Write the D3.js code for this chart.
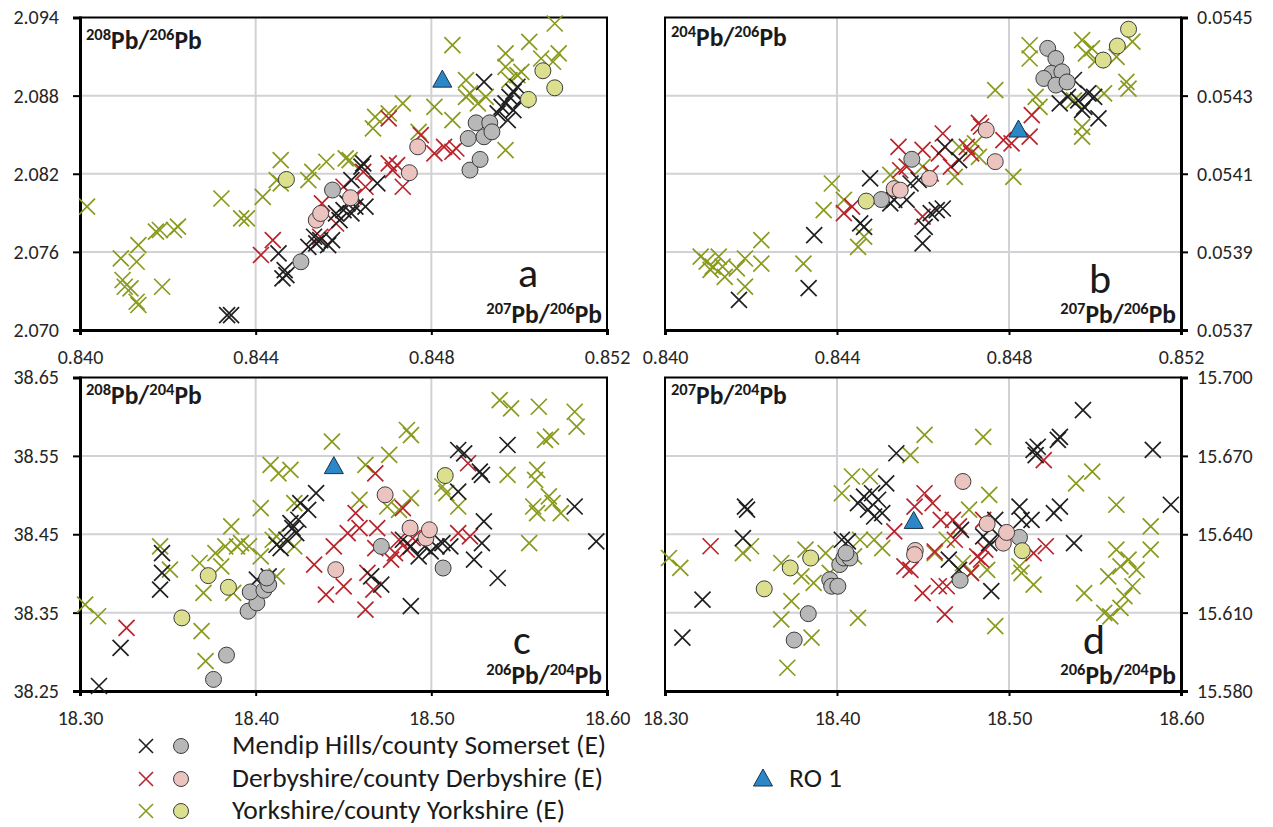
<!DOCTYPE html>
<html>
<head>
<meta charset="utf-8">
<script src="https://cdn.jsdelivr.net/npm/d3@7"></script>
<style>
  body { margin: 0; background: #fff; }
  text { font-family: Carlito, Lato, "Noto Sans", sans-serif; }
</style>
</head>
<body>
<svg id="chart" width="1273" height="827"></svg>
<script>
// ---- data: [x, y] pairs ----

// panel a: 207Pb/206Pb vs 208Pb/206Pb
const A_YORK_X = [[0.84016,2.07947],[0.84093,2.0755],[0.84129,2.07524],[0.84133,2.07652],[0.84097,2.07384],[0.84102,2.07332],
  [0.84115,2.0732],[0.84187,2.07332],[0.84129,2.07217],[0.84133,2.07192],[0.84173,2.07755],[0.84182,2.07768],[0.84214,2.07768],
  [0.84223,2.07794],[0.84322,2.0801],[0.84367,2.07857],[0.8438,2.07857],[0.84416,2.08023],[0.84448,2.08151],[0.84457,2.08305],
  [0.84457,2.08126],[0.8452,2.08151],[0.84529,2.08215],[0.84561,2.08292],[0.84605,2.08318],[0.84614,2.08305],[0.84667,2.08548],
  [0.84672,2.08637],[0.84703,2.08663],[0.84735,2.0874],[0.84771,2.08522],[0.84807,2.08714],[0.84848,2.09188],[0.84848,2.08612],
  [0.84879,2.08919],[0.84879,2.08791],[0.84906,2.0874],[0.84924,2.08791],[0.84969,2.09124],[0.84969,2.09021],[0.84978,2.08919],
  [0.84996,2.08957],[0.85005,2.08983],[0.85023,2.09213],[0.84969,2.08382],[0.8505,2.09085],[0.85077,2.0906],[0.85081,2.09354],
  [0.8509,2.09124],[0.84888,2.08817]];
const A_DERBY_X = [[0.84412,2.07576],[0.84439,2.0769],[0.84547,2.07716],[0.84551,2.07972],[0.84583,2.07818],[0.846,2.081],
  [0.84623,2.08023],[0.84645,2.08215],[0.8465,2.081],[0.84703,2.08279],[0.84712,2.08228],[0.84722,2.08267],[0.84735,2.081],
  [0.84703,2.08625],[0.84807,2.08356],[0.84829,2.08407],[0.84848,2.08369],[0.84857,2.08394],[0.84776,2.08497]];
const A_MENDIP_X = [[0.84335,2.07115],[0.84344,2.07115],[0.84452,2.07588],[0.84466,2.0746],[0.84461,2.07396],[0.8447,2.07422],
  [0.8452,2.07639],[0.84533,2.07716],[0.84538,2.07665],[0.84547,2.0769],[0.84565,2.07652],[0.84574,2.0769],[0.84583,2.07895],
  [0.84591,2.07844],[0.846,2.07921],[0.84609,2.07972],[0.84618,2.07895],[0.84627,2.07947],[0.8465,2.07947],[0.84618,2.08151],
  [0.84641,2.08254],[0.84645,2.08279],[0.84677,2.08126],[0.8492,2.08906],[0.84951,2.08663],[0.8496,2.08714],[0.84969,2.0874],
  [0.84974,2.08612],[0.84978,2.08791],[0.84987,2.0883],[0.84996,2.08868],[0.85005,2.08765],[0.84987,2.08689]];
const A_MENDIP_O = [[0.84503,2.07524],[0.84575,2.08075],[0.84888,2.08228],[0.84911,2.0831],[0.84884,2.08471],[0.84902,2.08591],
  [0.84933,2.08591],[0.8492,2.08484],[0.84938,2.08522]];
const A_DERBY_O = [[0.84538,2.07844],[0.84548,2.07895],[0.84616,2.08016],[0.8475,2.08208],[0.84769,2.08407]];
const A_YORK_O = [[0.8447,2.08156],[0.85021,2.08771],[0.85054,2.08991],[0.85081,2.0886]];
const A_RO1 = [[0.84825,2.08919]];

// panel b: 207Pb/206Pb vs 204Pb/206Pb
const B_YORK_X = [[0.84083,0.053888],[0.84097,0.053875],[0.84111,0.053862],[0.84125,0.053888],[0.84134,0.053862],[0.84139,0.053836],
  [0.84106,0.053854],[0.84167,0.053858],[0.84186,0.053883],[0.84186,0.053811],[0.84224,0.05393],[0.84224,0.05387],[0.84322,0.05387],
  [0.84369,0.054007],[0.84388,0.054075],[0.84416,0.054033],[0.84449,0.053913],[0.84463,0.053939],[0.84524,0.054097],[0.84599,0.054118],
  [0.84674,0.054092],[0.84684,0.054169],[0.8473,0.054143],[0.84721,0.054178],[0.84768,0.054314],[0.8481,0.054092],[0.84848,0.054429],
  [0.84848,0.054395],[0.84862,0.054297],[0.84871,0.054271],[0.8497,0.054442],[0.84979,0.054408],[0.84993,0.054421],[0.85003,0.054391],
  [0.85021,0.054306],[0.8505,0.054399],[0.85073,0.054335],[0.85078,0.054318],[0.85087,0.054438],[0.8497,0.05422],[0.8497,0.054195],
  [0.84951,0.054288]];
const B_DERBY_X = [[0.84416,0.053999],[0.84435,0.054016],[0.84543,0.054169],[0.84547,0.054109],[0.84562,0.054118],[0.84599,0.054161],
  [0.84618,0.054101],[0.84637,0.054152],[0.84646,0.054203],[0.84665,0.054118],[0.84702,0.054169],[0.84712,0.054152],[0.8473,0.05423],
  [0.84735,0.054221],[0.84787,0.054186],[0.84806,0.054178],[0.84848,0.054195],[0.84853,0.05425],[0.84599,0.05399]];
const B_MENDIP_X = [[0.84172,0.053777],[0.84334,0.053807],[0.84347,0.053943],[0.84477,0.054088],[0.84454,0.053973],[0.84463,0.053964],
  [0.84524,0.054024],[0.84533,0.054033],[0.84562,0.054033],[0.84571,0.054075],[0.8459,0.054084],[0.84599,0.053922],[0.84604,0.053964],
  [0.84618,0.053999],[0.84632,0.054007],[0.84646,0.054011],[0.84651,0.054169],[0.84684,0.054135],[0.84918,0.05428],[0.84937,0.054297],
  [0.84951,0.05434],[0.84961,0.054288],[0.84975,0.054271],[0.84984,0.054306],[0.84998,0.054297],[0.85008,0.054242],[0.8497,0.054263]];
const B_MENDIP_O = [[0.84503,0.054034],[0.84574,0.054137],[0.8489,0.054421],[0.84909,0.054395],[0.84899,0.054357],[0.84881,0.054344],
  [0.84923,0.054361],[0.84909,0.054327],[0.84935,0.054335]];
const B_DERBY_O = [[0.84533,0.054062],[0.84547,0.054058],[0.84615,0.054088],[0.84747,0.054212],[0.84768,0.054131]];
const B_YORK_O = [[0.84468,0.05403],[0.85019,0.054391],[0.85052,0.054427],[0.85078,0.05447]];
const B_RO1 = [[0.84822,0.054212]];

// panel c: 206Pb/204Pb vs 208Pb/204Pb
const C_YORK_X = [[18.3029,38.3603],[18.3103,38.3454],[18.3456,38.4345],[18.3512,38.4048],[18.3681,38.4133],[18.3703,38.3751],
  [18.3692,38.3263],[18.3715,38.2882],[18.3771,38.426],[18.3804,38.4091],[18.3827,38.4345],[18.3861,38.46],[18.3872,38.3751],
  [18.3894,38.4345],[18.3917,38.4388],[18.3962,38.4345],[18.4029,38.4218],[18.4029,38.4833],[18.4085,38.5384],[18.4097,38.443],
  [18.413,38.5278],[18.4198,38.5321],[18.4119,38.4473],[18.4119,38.3963],[18.422,38.4897],[18.422,38.4345],[18.4434,38.5681],
  [18.4591,38.4939],[18.4625,38.5384],[18.476,38.5512],[18.4749,38.4854],[18.4861,38.583],[18.4884,38.5766],[18.4884,38.496],
  [18.4816,38.4812],[18.5063,38.5109],[18.5085,38.5024],[18.5153,38.4854],[18.5389,38.6212],[18.5454,38.6106],[18.5612,38.6127],
  [18.5434,38.5257],[18.5557,38.4388],[18.5591,38.5193],[18.5602,38.5321],[18.5647,38.5703],[18.5681,38.5745],[18.558,38.4854],
  [18.5602,38.4769],[18.569,38.4897],[18.5737,38.4769],[18.5816,38.6063],[18.5827,38.5872],[18.5669,38.4982]];
const C_DERBY_X = [[18.3265,38.3306],[18.4333,38.4112],[18.44,38.373],[18.4445,38.4345],[18.4501,38.3836],[18.4524,38.4515],
  [18.4569,38.477],[18.4591,38.4579],[18.4625,38.3539],[18.4636,38.4006],[18.4681,38.5278],[18.4692,38.4579],[18.4681,38.4324],
  [18.467,38.3794],[18.4771,38.4176],[18.4793,38.426],[18.4816,38.443],[18.4838,38.4833],[18.4861,38.4303],[18.4894,38.4451],
  [18.5153,38.4515],[18.522,38.4473],[18.5209,38.5406]];
const C_MENDIP_X = [[18.3108,38.2564],[18.3231,38.3051],[18.3467,38.426],[18.3467,38.4006],[18.3456,38.3794],[18.4007,38.3921],
  [18.4074,38.3963],[18.4119,38.4366],[18.4142,38.4324],[18.4175,38.443],[18.4198,38.4642],[18.4209,38.4579],[18.4231,38.4515],
  [18.4243,38.4685],[18.4254,38.4897],[18.4299,38.4812],[18.4344,38.5024],[18.4658,38.3963],[18.4715,38.3857],[18.4883,38.3582],
  [18.4838,38.443],[18.4883,38.4345],[18.4928,38.4218],[18.4962,38.4345],[18.4996,38.4282],[18.5029,38.4345],[18.5063,38.4388],
  [18.5108,38.4345],[18.5153,38.5575],[18.5187,38.5533],[18.5153,38.5045],[18.5276,38.53],[18.5288,38.5257],[18.5299,38.4663],
  [18.5288,38.4388],[18.5243,38.4176],[18.5378,38.3942],[18.5434,38.5639],[18.5816,38.4854],[18.5939,38.4409]];
const C_MENDIP_O = [[18.376,38.2648],[18.3834,38.2958],[18.3957,38.3518],[18.4007,38.3624],[18.3969,38.3764],[18.4047,38.3785],
  [18.4074,38.3857],[18.4063,38.3942],[18.4715,38.4345],[18.5067,38.4069]];
const C_DERBY_O = [[18.4456,38.4048],[18.4737,38.5003],[18.4879,38.4579],[18.4969,38.4451],[18.4989,38.4557]];
const C_YORK_O = [[18.358,38.3433],[18.373,38.3972],[18.3845,38.3823],[18.5079,38.5249]];
const C_RO1 = [[18.4445,38.5363]];

// panel d: 206Pb/204Pb vs 207Pb/204Pb
const D_YORK_X = [[18.3023,15.6309],[18.3089,15.6271],[18.3453,15.6328],[18.35,15.6354],[18.3676,15.629],[18.3676,15.6074],
  [18.3711,15.5889],[18.3735,15.6144],[18.3793,15.6239],[18.3817,15.6341],[18.3852,15.6004],[18.3864,15.6214],[18.3934,15.6328],
  [18.3958,15.6252],[18.4028,15.6557],[18.4087,15.6621],[18.4099,15.6315],[18.4134,15.6379],[18.4122,15.608],[18.4192,15.6621],
  [18.4216,15.6379],[18.4263,15.6347],[18.4427,15.6703],[18.4509,15.678],[18.4568,15.6328],[18.4638,15.6379],[18.4732,15.629],
  [18.4779,15.6252],[18.4768,15.6494],[18.485,15.6773],[18.4885,15.6551],[18.4873,15.6264],[18.492,15.6048],[18.5061,15.6277],
  [18.5073,15.6252],[18.5143,15.6207],[18.539,15.6595],[18.5484,15.664],[18.5437,15.6175],[18.5577,15.6239],[18.5624,15.6513],
  [18.5624,15.6341],[18.5554,15.6099],[18.5589,15.6086],[18.5648,15.6118],[18.5671,15.6163],[18.5695,15.6303],[18.5718,15.6201],
  [18.5742,15.6264],[18.5824,15.643],[18.5824,15.6341],[18.5648,15.6277]];
const D_DERBY_X = [[18.3265,15.6354],[18.4333,15.6411],[18.4392,15.6277],[18.4427,15.6264],[18.4451,15.6506],[18.4498,15.6175],
  [18.4509,15.6557],[18.4556,15.6519],[18.4568,15.6334],[18.4592,15.6201],[18.4603,15.6455],[18.4627,15.6093],[18.4638,15.6201],
  [18.4674,15.6455],[18.4685,15.6379],[18.4709,15.643],[18.4815,15.6315],[18.4838,15.6303],[18.4862,15.6341],[18.485,15.6455],
  [18.5143,15.6328],[18.5214,15.6354],[18.5202,15.6684],[18.4779,15.6252]];
const D_MENDIP_X = [[18.3101,15.6004],[18.3218,15.615],[18.3453,15.6385],[18.3465,15.6506],[18.3477,15.6494],[18.4028,15.6379],
  [18.4063,15.6373],[18.4122,15.6519],[18.4157,15.6544],[18.4181,15.6494],[18.4204,15.6557],[18.4216,15.6468],[18.4239,15.6532],
  [18.4263,15.6481],[18.4286,15.6595],[18.4345,15.671],[18.465,15.6303],[18.4709,15.6264],[18.4721,15.6417],[18.485,15.6392],
  [18.4885,15.6366],[18.4897,15.6182],[18.492,15.6455],[18.4944,15.6392],[18.5061,15.6506],[18.5073,15.6455],[18.5131,15.6455],
  [18.5143,15.6723],[18.5155,15.6703],[18.5167,15.6735],[18.5261,15.6481],[18.5296,15.6506],[18.5284,15.6761],[18.5296,15.6773],
  [18.5378,15.6366],[18.543,15.6875],[18.5836,15.6723],[18.5941,15.6513]];
const D_MENDIP_O = [[18.3751,15.5995],[18.3833,15.6096],[18.3958,15.6226],[18.3969,15.6201],[18.4005,15.6201],[18.4016,15.6284],
  [18.404,15.6309],[18.4075,15.6309],[18.4052,15.6328],[18.4716,15.6224],[18.5061,15.6388]];
const D_DERBY_O = [[18.4455,15.6338],[18.4451,15.6322],[18.4732,15.6602],[18.4873,15.644],[18.4967,15.6366],[18.4986,15.6407]];
const D_YORK_O = [[18.3577,15.6191],[18.3728,15.6271],[18.3847,15.6309],[18.5077,15.6337]];
const D_RO1 = [[18.4446,15.6449]];

// ticks
const TICKS_207_206 = [0.840, 0.844, 0.848, 0.852];
const TICKS_206_204 = [18.30, 18.40, 18.50, 18.60];
const TICKS_A = [2.070, 2.076, 2.082, 2.088, 2.094];
const TICKS_B = [0.0537, 0.0539, 0.0541, 0.0543, 0.0545];
const TICKS_C = [38.25, 38.35, 38.45, 38.55, 38.65];
const TICKS_D = [15.580, 15.610, 15.640, 15.670, 15.700];

// legend
const GROUPS = ["Mendip Hills/county Somerset (E)", "Derbyshire/county Derbyshire (E)", "Yorkshire/county Yorkshire (E)"];
const SAMPLE = "RO 1";

// ---- styles ----
const CROSS_COL = ["#1f1f1f", "#b9232b", "#8a9a1c"];
const FILL_COL = ["#b8b8b8", "#ebc4bf", "#dcdf8d"];
const TRI_COL = "#2b87c8";

const svg = d3.select("#chart");

const crossPath = "M-8,-8L8,8M-8,8L8,-8";
const triPath = "M0,-10L9.5,7L-9.5,7Z";

// draw a superscripted isotope string like 208Pb/206Pb
function isoText(g, x, y, parts, anchor) {
  const t = g.append("text")
    .attr("x", x).attr("y", y)
    .attr("text-anchor", anchor)
    .attr("font-weight", "bold")
    .attr("fill", "#1a1a1a");
  let raised = false;
  parts.forEach(p => {
    const sup = /^\d+$/.test(p);
    let dy = 0;
    if (sup && !raised) { dy = -9; raised = true; }
    else if (!sup && raised) { dy = 9; raised = false; }
    t.append("tspan").attr("dy", dy).attr("font-size", sup ? 16.5 : 25.5).text(p);
  });
}

function drawPanel(cfg) {
  const W = cfg.right - cfg.left, H = cfg.bottom - cfg.top;
  const g = svg.append("g").attr("transform", `translate(${cfg.left},${cfg.top})`);

  const x = d3.scaleLinear().domain(d3.extent(cfg.xTicks)).range([0, W]);
  const y = d3.scaleLinear().domain(d3.extent(cfg.yTicks)).range([H, 0]);

  // grid
  g.append("g").selectAll("line.gx")
    .data(cfg.xTicks.slice(1, -1)).enter().append("line")
      .attr("x1", d => x(d)).attr("x2", d => x(d))
      .attr("y1", 0).attr("y2", H)
      .attr("stroke", "#d2d2d6").attr("stroke-width", 2);
  g.append("g").selectAll("line.gy")
    .data(cfg.yTicks.slice(1, -1)).enter().append("line")
      .attr("y1", d => y(d)).attr("y2", d => y(d))
      .attr("x1", 0).attr("x2", W)
      .attr("stroke", "#d2d2d6").attr("stroke-width", 2);

  // frame
  g.append("rect").attr("width", W).attr("height", H)
    .attr("fill", "none").attr("stroke", "#000").attr("stroke-width", 2);

  // axes
  const xa = g.append("g").attr("transform", `translate(0,${H})`)
    .call(d3.axisBottom(x).tickValues(cfg.xTicks).tickFormat(d3.format(cfg.xFmt))
      .tickSize(5).tickPadding(15));
  const ya = cfg.ySide === "left"
    ? g.append("g").call(d3.axisLeft(y).tickValues(cfg.yTicks).tickFormat(d3.format(cfg.yFmt))
        .tickSize(7).tickPadding(14))
    : g.append("g").attr("transform", `translate(${W},0)`)
        .call(d3.axisRight(y).tickValues(cfg.yTicks).tickFormat(d3.format(cfg.yFmt))
        .tickSize(7).tickPadding(9));
  [xa, ya].forEach(a => {
    a.select(".domain").attr("stroke", "#000").attr("stroke-width", 3);
    a.selectAll(".tick line").attr("stroke", "#000").attr("stroke-width", 2);
    a.selectAll(".tick text").attr("font-size", 20).attr("fill", "#262626")
      .attr("font-family", "Carlito, Lato, 'Noto Sans', sans-serif");
  });

  // crosses (Yorkshire, Derbyshire, Mendip)
  [2, 1, 0].forEach(i => {
    g.append("g").selectAll("path")
      .data(cfg.crosses[i]).enter().append("path")
        .attr("d", crossPath)
        .attr("transform", d => `translate(${x(d[0])},${y(d[1])})`)
        .attr("fill", "none").attr("stroke", CROSS_COL[i]).attr("stroke-width", 1.7);
  });
  // circles
  [0, 1, 2].forEach(i => {
    g.append("g").selectAll("circle")
      .data(cfg.circles[i]).enter().append("circle")
        .attr("cx", d => x(d[0])).attr("cy", d => y(d[1])).attr("r", 8)
        .attr("fill", FILL_COL[i]).attr("stroke", "#3c3c3c").attr("stroke-width", 1);
  });
  g.append("g").selectAll("path")
    .data(cfg.ro1).enter().append("path")
      .attr("d", triPath)
      .attr("transform", d => `translate(${x(d[0])},${y(d[1])})`)
      .attr("fill", TRI_COL).attr("stroke", "#1b3347").attr("stroke-width", 1);

  // labels
  isoText(g, 6, cfg.titleY, cfg.yTitle, "start");
  isoText(g, W - 5, H - 7, cfg.xTitle, "end");
  g.append("text").attr("x", cfg.letterX).attr("y", H - cfg.letterDy)
    .attr("text-anchor", "middle").attr("font-size", 42).attr("fill", "#1a1a1a")
    .text(cfg.letter);
}

drawPanel({
  left: 80, right: 607, top: 17.5, bottom: 330,
  xTicks: TICKS_207_206, yTicks: TICKS_A, xFmt: ".3f", yFmt: ".3f", ySide: "left",
  crosses: [A_MENDIP_X, A_DERBY_X, A_YORK_X], circles: [A_MENDIP_O, A_DERBY_O, A_YORK_O], ro1: A_RO1,
  yTitle: ["208", "Pb/", "206", "Pb"], xTitle: ["207", "Pb/", "206", "Pb"], titleY: 31,
  letter: "a", letterX: 448, letterDy: 43
});
drawPanel({
  left: 665, right: 1181, top: 17.5, bottom: 330,
  xTicks: TICKS_207_206, yTicks: TICKS_B, xFmt: ".3f", yFmt: ".4f", ySide: "right",
  crosses: [B_MENDIP_X, B_DERBY_X, B_YORK_X], circles: [B_MENDIP_O, B_DERBY_O, B_YORK_O], ro1: B_RO1,
  yTitle: ["204", "Pb/", "206", "Pb"], xTitle: ["207", "Pb/", "206", "Pb"], titleY: 28,
  letter: "b", letterX: 435, letterDy: 37
});
drawPanel({
  left: 80, right: 607, top: 377.5, bottom: 691,
  xTicks: TICKS_206_204, yTicks: TICKS_C, xFmt: ".2f", yFmt: ".2f", ySide: "left",
  crosses: [C_MENDIP_X, C_DERBY_X, C_YORK_X], circles: [C_MENDIP_O, C_DERBY_O, C_YORK_O], ro1: C_RO1,
  yTitle: ["208", "Pb/", "204", "Pb"], xTitle: ["206", "Pb/", "204", "Pb"], titleY: 26,
  letter: "c", letterX: 442, letterDy: 37
});
drawPanel({
  left: 665, right: 1181, top: 377.5, bottom: 691,
  xTicks: TICKS_206_204, yTicks: TICKS_D, xFmt: ".2f", yFmt: ".3f", ySide: "right",
  crosses: [D_MENDIP_X, D_DERBY_X, D_YORK_X], circles: [D_MENDIP_O, D_DERBY_O, D_YORK_O], ro1: D_RO1,
  yTitle: ["207", "Pb/", "204", "Pb"], xTitle: ["206", "Pb/", "204", "Pb"], titleY: 26,
  letter: "d", letterX: 429, letterDy: 37
});

// legend
const legend = svg.append("g");
const rowY = [746, 779, 811];
GROUPS.forEach((name, i) => {
  legend.append("path").attr("d", "M-7,-7L7,7M-7,7L7,-7")
    .attr("transform", `translate(146,${rowY[i]})`)
    .attr("fill", "none").attr("stroke", CROSS_COL[i]).attr("stroke-width", 1.6);
  legend.append("circle").attr("cx", 181).attr("cy", rowY[i]).attr("r", 7.5)
    .attr("fill", FILL_COL[i]).attr("stroke", "#3c3c3c").attr("stroke-width", 1);
  legend.append("text").attr("x", 232).attr("y", rowY[i] + 8)
    .attr("font-size", 27.5).attr("fill", "#1a1a1a").text(name);
});
legend.append("path").attr("d", triPath)
  .attr("transform", `translate(763,${rowY[1]})`)
  .attr("fill", TRI_COL).attr("stroke", "#1b3347").attr("stroke-width", 1);
legend.append("text").attr("x", 789).attr("y", rowY[1] + 8)
  .attr("font-size", 27.5).attr("fill", "#1a1a1a").text(SAMPLE);
</script>
</body>
</html>
